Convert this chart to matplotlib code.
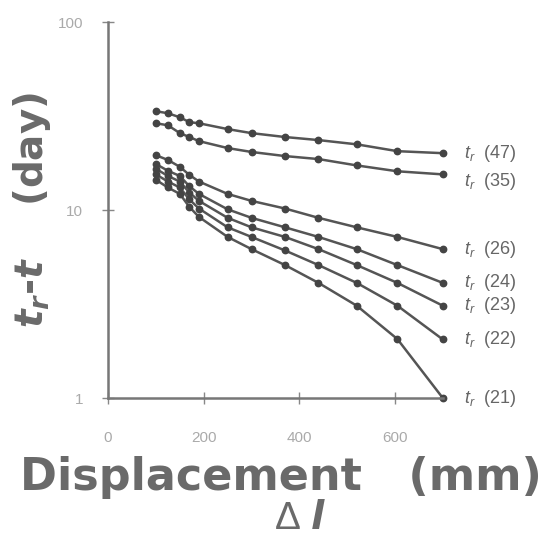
import numpy as np
import matplotlib
matplotlib.use("Agg")
import matplotlib.pyplot as plt

plt.rcParams['font.family'] = ['Liberation Sans', 'DejaVu Sans']
plt.rcParams['mathtext.fontset'] = 'custom'
plt.rcParams['mathtext.it'] = 'Liberation Sans:italic'
plt.rcParams['mathtext.rm'] = 'Liberation Sans'
plt.rcParams['mathtext.bf'] = 'DejaVu Sans:bold:italic'

# displacement (mm)
disp = [100, 125, 150, 170, 190, 250, 300, 370, 440, 520, 605, 700]

# t_r - t (day) for each assumed failure time t_r
series = {
    47: [33.6, 32.8, 31.2, 29.4, 29.0, 27.0, 25.7, 24.5, 23.6, 22.4, 20.6, 20.1],
    35: [29.0, 28.3, 25.7, 24.5, 23.3, 21.4, 20.4, 19.4, 18.7, 17.3, 16.1, 15.5],
    26: [19.6, 18.5, 17.0, 15.4, 14.2, 12.2, 11.2, 10.2, 9.1, 8.1, 7.2, 6.2],
    24: [17.6, 16.2, 15.2, 13.4, 12.2, 10.1, 9.1, 8.1, 7.2, 6.2, 5.1, 4.1],
    23: [16.6, 15.2, 14.2, 12.4, 11.2, 9.1, 8.1, 7.2, 6.2, 5.1, 4.1, 3.1],
    22: [15.5, 14.2, 13.2, 11.4, 10.2, 8.1, 7.2, 6.1, 5.1, 4.1, 3.1, 2.05],
    21: [14.5, 13.2, 12.2, 10.4, 9.2, 7.2, 6.2, 5.1, 4.1, 3.1, 2.06, 1.0],
}
# label vertical nudges (multiplicative) to keep them apart
label_shift = {47: 1.0, 35: 0.92, 26: 1.0, 24: 1.0, 23: 1.0, 22: 1.0, 21: 1.0}

fig = plt.figure(figsize=(5.46, 5.43), dpi=100)
ax = fig.add_axes([0.198, 0.267, 0.613, 0.692])

for tr, vals in series.items():
    ax.plot(disp, vals, '-o', color='#555555', lw=1.8, ms=4.6,
            markerfacecolor='#444444', markeredgecolor='#444444', clip_on=False)
    ax.text(745, vals[-1] * label_shift[tr], r'$t_r$  (%d)' % tr, fontsize=13,
            color='#666666', va='center', ha='left')

ax.set_yscale('log')
ax.set_xlim(0, 700)
ax.set_ylim(1, 100)
ax.set_xticks([0, 200, 400, 600])
ax.set_yticks([1, 10, 100])
ax.set_yticklabels(['1', '10', '100'])
ax.minorticks_off()
ax.tick_params(direction='inout', length=8, width=1, color='#888888',
               labelcolor='#aaaaaa', labelsize=11)
ax.tick_params(axis='x', pad=20)
ax.tick_params(axis='y', pad=14)
for s in ['top', 'right']:
    ax.spines[s].set_visible(False)
for s in ['left', 'bottom']:
    ax.spines[s].set_color('#777777')
    ax.spines[s].set_linewidth(1.8)

fig.text(0.058, 0.613, r'$\mathbf{t_r}$-$\mathbf{t}$    (day)', rotation=90,
         family='DejaVu Sans', fontsize=28, fontweight='bold', color='#6a6a6a',
         ha='center', va='center')
fig.text(0.515, 0.12, 'Displacement   (mm)', family='DejaVu Sans', fontsize=32,
         fontweight='bold', color='#6a6a6a', ha='center', va='center')
fig.text(0.55, 0.045, r'$\Delta$ $\mathbf{l}$', fontsize=28,
         color='#6a6a6a', ha='center', va='center')

fig.savefig('out.png', dpi=100, facecolor='white')
